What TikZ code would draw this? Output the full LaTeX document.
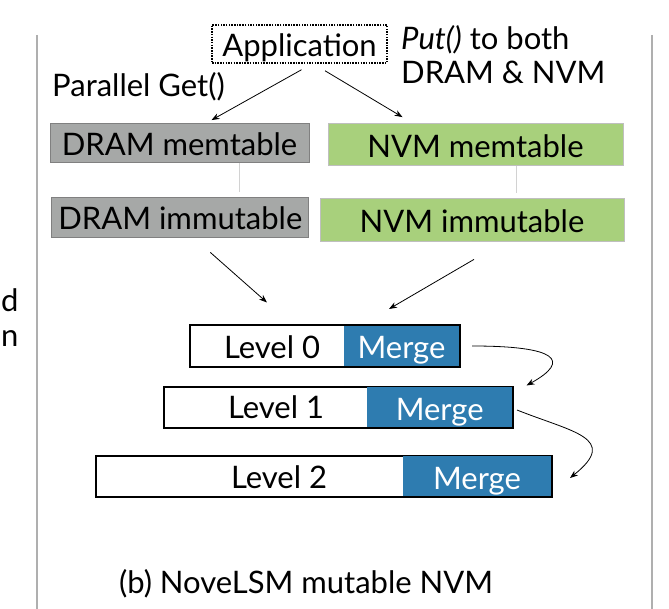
\documentclass[tikz,border=0pt]{standalone}
\usepackage{fontspec}
\setmainfont{Lato}
\usetikzlibrary{arrows.meta}
\definecolor{dramgray}{RGB}{166,168,167}
\definecolor{nvmgreen}{RGB}{168,208,124}
\definecolor{mergeblue}{RGB}{46,124,176}
\definecolor{framegray}{RGB}{175,175,175}

\begin{document}
\begin{tikzpicture}[x=1pt,y=-1pt,
  every node/.style={font=\fontsize{31}{36}\selectfont, inner sep=0pt},
  textbox/.style={text height=26, text depth=0},
  drambox/.style={textbox, draw=gray, line width=0.8, fill=dramgray},
  nvmbox/.style={textbox, draw=gray!50, line width=0.8, fill=nvmgreen},
  appbox/.style={textbox, draw=black, dash pattern=on 1.5pt off 1.2pt, line width=1.5},
  levelbox/.style={draw=black, line width=2, fill=white, minimum height=41},
  mergebox/.style={textbox, fill=mergeblue, text=white, minimum height=40},
  arr/.style={-{Stealth[length=8,width=6]}, line width=0.8},
  link/.style={draw=gray!35, line width=0.8},
  frame/.style={draw=framegray, line width=2}]
\useasboundingbox (0,0) rectangle (669,609);

% side frame
\draw[frame] (37,35) -- (37,609);
\draw[frame] (652,35) -- (652,609);
\node[anchor=base west] (cutd) at (1,312) {d};
\node[anchor=base west] (cutn) at (1,347) {n};

% application and write/read notes
\node[appbox, minimum width=175, minimum height=38] (app) at (299.5,44) {Application};
\node[anchor=base west] (put) at (401,50) {\textit{Put()} to both};
\node[anchor=base west] (put2) at (401,84) {DRAM \& NVM};
\node[anchor=base west] (get) at (52,97) {Parallel Get()};

% memtables
\node[drambox, minimum width=259, minimum height=39] (dmem) at (179.5,143) {DRAM memtable};
\node[nvmbox, minimum width=295, minimum height=42] (nmem) at (475.5,144.5) {NVM memtable};
\node[drambox, minimum width=257, minimum height=40] (dimm) at (180.3,217) {DRAM immutable};
\node[nvmbox, minimum width=304, minimum height=43] (nimm) at (472,219.5) {NVM immutable};

\draw[link] ([xshift=59.5]dmem.south) -- ([xshift=58.7,yshift=5]dimm.north);
\draw[link] ([xshift=41]nmem.south) -- ([xshift=44.5,yshift=5]nimm.north);

\draw[arr] ([xshift=2,yshift=-6]app.south) -- ([xshift=32,yshift=3]dmem.north);
\draw[arr] ([xshift=25.5,yshift=-7]app.south) -- ([xshift=-73,yshift=6]nmem.north);

% levels
\node[levelbox, minimum width=270] (lv0) at (324.5,346) {};
\node[mergebox, minimum width=115] (mg0) at (401.5,346) {Merge};
\node[anchor=base] (lt0) at (272,359) {Level 0};
\node[levelbox, minimum width=349] (lv1) at (338,407) {};
\node[mergebox, minimum width=145] (mg1) at (439.7,407) {Merge};
\node[anchor=base] (lt1) at (276,418) {Level 1};
\node[levelbox, minimum width=456] (lv2) at (323.5,476) {};
\node[mergebox, minimum width=148] (mg2) at (477,476) {Merge};
\node[anchor=base] (lt2) at (279,488) {Level 2};

\draw[arr] ([xshift=30,yshift=-15]dimm.south) -- ([xshift=-57.5,yshift=22]lv0.north);
\draw[arr] ([xshift=2,yshift=-18]nimm.south) -- ([xshift=64.5,yshift=15.5]lv0.north);

\draw[arr] ([xshift=13]mg0.east) .. controls +(85,0) and +(45,-25) .. ([xshift=13]lv1.north east);
\draw[arr] ([xshift=3.5,yshift=-3]lv1.east) .. controls +(55,22) and +(50,-40) .. ([xshift=17.5,yshift=-2]lv2.east);

\node[anchor=base] (caption) at (306,593) {(b) NoveLSM mutable NVM};
\end{tikzpicture}
\end{document}
